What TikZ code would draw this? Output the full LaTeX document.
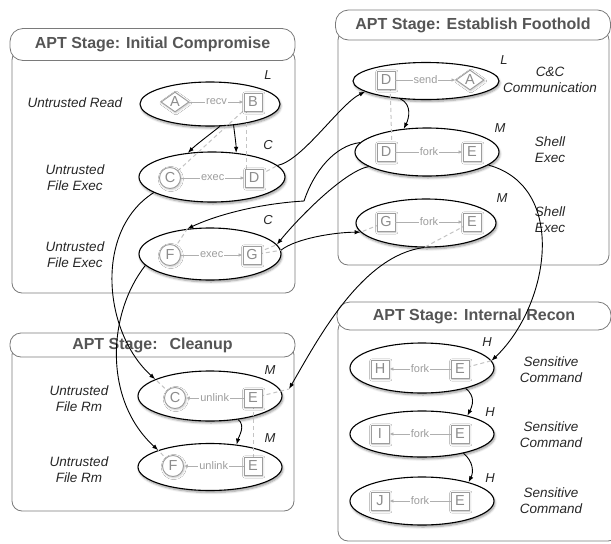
\documentclass[tikz,border=0pt]{standalone}
\usepackage{fontspec}
\setmainfont{Liberation Sans}
\usetikzlibrary{shapes.geometric,arrows.meta,shadows.blur}
\definecolor{boxgray}{HTML}{7A7A7A}
\definecolor{titlegray}{HTML}{555555}
\definecolor{innergray}{HTML}{8C8C8C}
\definecolor{dashgray}{HTML}{C4C4C4}
\begin{document}
\begin{tikzpicture}[x=1pt,y=-1pt,
  stagebox/.style={draw=boxgray, line width=0.8pt, rounded corners=10pt},
  stagetitle/.style={draw=boxgray, line width=0.8pt, fill=white, rounded corners=13pt, inner sep=0pt,
    font=\fontsize{16}{18}\selectfont\bfseries, text=titlegray},
  evt/.style={ellipse, draw=black, line width=1.1pt, fill=white, inner sep=0pt,
    blur shadow={shadow xshift=1pt, shadow yshift=-2pt, shadow opacity=40, shadow blur steps=6}},
  innerbase/.style={draw=innergray!85, line width=0.9pt, fill=white, inner sep=0pt, text=innergray,
    font=\fontsize{14.5}{14.5}\selectfont,
    blur shadow={shadow xshift=0.8pt, shadow yshift=-1pt, shadow opacity=25, shadow blur steps=3}},
  sq/.style={innerbase, rectangle, minimum size=18pt},
  circ/.style={innerbase, circle, minimum size=21pt},
  dia/.style={innerbase, diamond, aspect=1.4, minimum width=28pt, minimum height=20pt},
  elab/.style={font=\fontsize{11}{11}\selectfont, text=innergray!85, fill=white, inner sep=1pt},
  iline/.style={draw=innergray!70, line width=0.8pt, -{Latex[length=4pt,width=3.5pt]}},
  dline/.style={draw=dashgray, line width=1pt, dash pattern=on 4pt off 3pt},
  side/.style={font=\fontsize{13.5}{16}\selectfont\itshape, align=center, text=black!85},
  lvl/.style={font=\fontsize{13}{13}\selectfont\itshape, text=black!85},
  conn/.style={draw=black, line width=0.9pt, -{Latex[length=6pt,width=4.5pt]}}
]
\useasboundingbox (0,0) rectangle (611,544);

% ---------- stage boxes ----------
\draw[stagebox] (12,50) rectangle (295,293);
\draw[stagebox] (338,30) rectangle (609,265);
\draw[stagebox] (12,345) rectangle (294,511);
\draw[stagebox] (338,320) rectangle (618,541);

\node[stagetitle, minimum width=285pt, minimum height=32pt] (t1) at (152.5,44.5) {APT Stage: Initial Compromise};
\node[stagetitle, minimum width=275pt, minimum height=30pt] (t2) at (473,25) {APT Stage: Establish Foothold};
\node[stagetitle, minimum width=285pt, minimum height=24pt, rounded corners=11pt] (t3) at (152.5,345) {APT Stage:\hspace{12pt}Cleanup};
\node[stagetitle, minimum width=274pt, minimum height=28pt] (t4) at (474,316) {APT Stage: Internal Recon};

% ---------- event ellipses ----------
\node[evt, minimum width=140pt, minimum height=44pt] (e1) at (210,104) {};
\node[evt, minimum width=146pt, minimum height=50pt] (e2) at (212,177) {};
\node[evt, minimum width=142pt, minimum height=52pt] (e3) at (210,254) {};
\node[evt, minimum width=146pt, minimum height=37pt] (e4) at (426,81) {};
\node[evt, minimum width=144pt, minimum height=48pt] (e5) at (427,152) {};
\node[evt, minimum width=140pt, minimum height=48pt] (e6) at (426,223) {};
\node[evt, minimum width=144pt, minimum height=50pt] (e7) at (422,368) {};
\node[evt, minimum width=144pt, minimum height=46pt] (e8) at (422,434) {};
\node[evt, minimum width=144pt, minimum height=48pt] (e9) at (422,501) {};
\node[evt, minimum width=144pt, minimum height=50pt] (e10) at (210,396) {};
\node[evt, minimum width=144pt, minimum height=47pt] (e11) at (210,467) {};

% ---------- side labels ----------
\node[side] (s1) at (75,103) {Untrusted Read};
\node[side] (s2) at (75,178) {Untrusted\\File Exec};
\node[side] (s3) at (75,255) {Untrusted\\File Exec};
\node[side] (s4) at (550,80) {C\&C\\Communication};
\node[side] (s5) at (550,150) {Shell\\Exec};
\node[side] (s6) at (550,220) {Shell\\Exec};
\node[side] (s7) at (551,370) {Sensitive\\Command};
\node[side] (s8) at (551,435) {Sensitive\\Command};
\node[side] (s9) at (551,501) {Sensitive\\Command};
\node[side] (s10) at (79,399) {Untrusted\\File Rm};
\node[side] (s11) at (79,470) {Untrusted\\File Rm};

% ---------- level letters ----------
\node[lvl] (l1) at (268,75) {L};
\node[lvl] (l2) at (268,145) {C};
\node[lvl] (l3) at (268,220) {C};
\node[lvl] (l4) at (504,60) {L};
\node[lvl] (l5) at (500,128) {M};
\node[lvl] (l6) at (502,198) {M};
\node[lvl] (l7) at (487,342) {H};
\node[lvl] (l8) at (490,412) {H};
\node[lvl] (l9) at (490,478) {H};
\node[lvl] (l10) at (270,370) {M};
\node[lvl] (l11) at (270,438) {M};

% ---------- coordinates ----------
\coordinate (k1) at (304,201);
\coordinate (t10) at (289,389);

% ---------- dashed dependency stubs (drawn under the inner nodes) ----------
\draw[dline] (253,102) -- (170,178);
\draw[dline] (246,102) -- (246,178);
\draw[dline] (254,178) -- (e2.10);
\draw[dline] (170,255) -- (e3.132);
\draw[dline] (252,255) -- (e3.3);
\draw[dline] (252,255) -- (e3.8);
\draw[dline] (390,80) -- (392,152);
\draw[dline] (386,222) -- (e6.-172);
\draw[dline] (472,222) -- (e6.-95);
\draw[dline] (460,369) -- (e7.6);
\draw[dline] (175,398) -- (e10.163);
\draw[dline] (253,398) -- (t10);
\draw[dline] (253,398) -- (253,466);
\draw[dline] (173,466) -- (e11.162);

% ---------- inner nodes ----------
\node[dia] (A1) at (175,102) {A};
\node[sq] (B1) at (253,102) {B};
\node[circ] (C2) at (170,178) {C};
\node[sq] (D2) at (254,178) {D};
\node[circ] (F3) at (170,255) {F};
\node[sq] (G3) at (252,255) {G};
\node[sq] (D4) at (386,80) {D};
\node[dia] (A4) at (470,80) {A};
\node[sq] (D5) at (386,152) {D};
\node[sq] (E5) at (472,152) {E};
\node[sq] (G6) at (386,222) {G};
\node[sq] (E6) at (472,222) {E};
\node[sq] (H7) at (380,369) {H};
\node[sq] (E7) at (460,369) {E};
\node[sq] (I8) at (380,434) {I};
\node[sq] (E8) at (460,434) {E};
\node[sq] (J9) at (380,501) {J};
\node[sq] (E9) at (460,501) {E};
\node[circ] (C10) at (175,398) {C};
\node[sq] (E10) at (253,398) {E};
\node[circ] (F11) at (173,466) {F};
\node[sq] (E11) at (253,466) {E};

% ---------- inner edges ----------
\draw[iline] (A1) -- node[elab]{recv} (B1);
\draw[iline] (C2) -- node[elab]{exec} (D2);
\draw[iline] (F3) -- node[elab]{exec} (G3);
\draw[iline] (D4) -- node[elab]{send} (A4);
\draw[iline] (D5) -- node[elab]{fork} (E5);
\draw[iline] (G6) -- node[elab]{fork} (E6);
\draw[iline] (E7) -- node[elab]{fork} (H7);
\draw[iline] (E8) -- node[elab]{fork} (I8);
\draw[iline] (E9) -- node[elab]{fork} (J9);
\draw[iline] (E10) -- node[elab]{unlink} (C10);
\draw[iline] (E11) -- node[elab]{unlink} (F11);

% ---------- connectors between events ----------
\draw[conn] (e1.-66) .. controls +(-10,8) and +(8,-8) .. (e2.135);
\draw[conn] (e1.-42) .. controls +(1,8) and +(0,-8) .. (e2.45);
\draw[conn] (e2.10) .. controls +(25,-5) and +(-25,12) .. (e4.-170);
\draw[conn] (e4.-145) .. controls +(12,6) and +(5,-10) .. (e5.135);
\draw[conn] (e5.172) .. controls +(-25,3) and +(10,-30) .. (k1) .. controls +(-50,3) and +(25,-12) .. (e3.132);
\draw[conn] (e5.-166) .. controls +(-25,5) and +(20,-25) .. (e3.8);
\draw[conn] (e3.3) .. controls +(15,-12) and +(-25,0) .. (e6.-172);
\draw[conn] (e2.-165) .. controls +(-60,38) and +(-52,-47) .. (e10.163);
\draw[conn] (e3.-170) .. controls +(-38,48) and +(-55,-50) .. (e11.162);
\draw[conn] (e6.-95) .. controls +(-62,8) and +(29,-50) .. (t10);
\draw[conn] (e5.-12) .. controls +(80,22) and +(58,-55) .. (e7.6);
\draw[conn] (e7.-25) .. controls +(10,8) and +(5,-10) .. (e8.22);
\draw[conn] (e8.-25) .. controls +(10,8) and +(5,-10) .. (e9.22);
\draw[conn] (e10.-40) .. controls +(8,6) and +(2,-8) .. (e11.40);
\end{tikzpicture}
\end{document}
